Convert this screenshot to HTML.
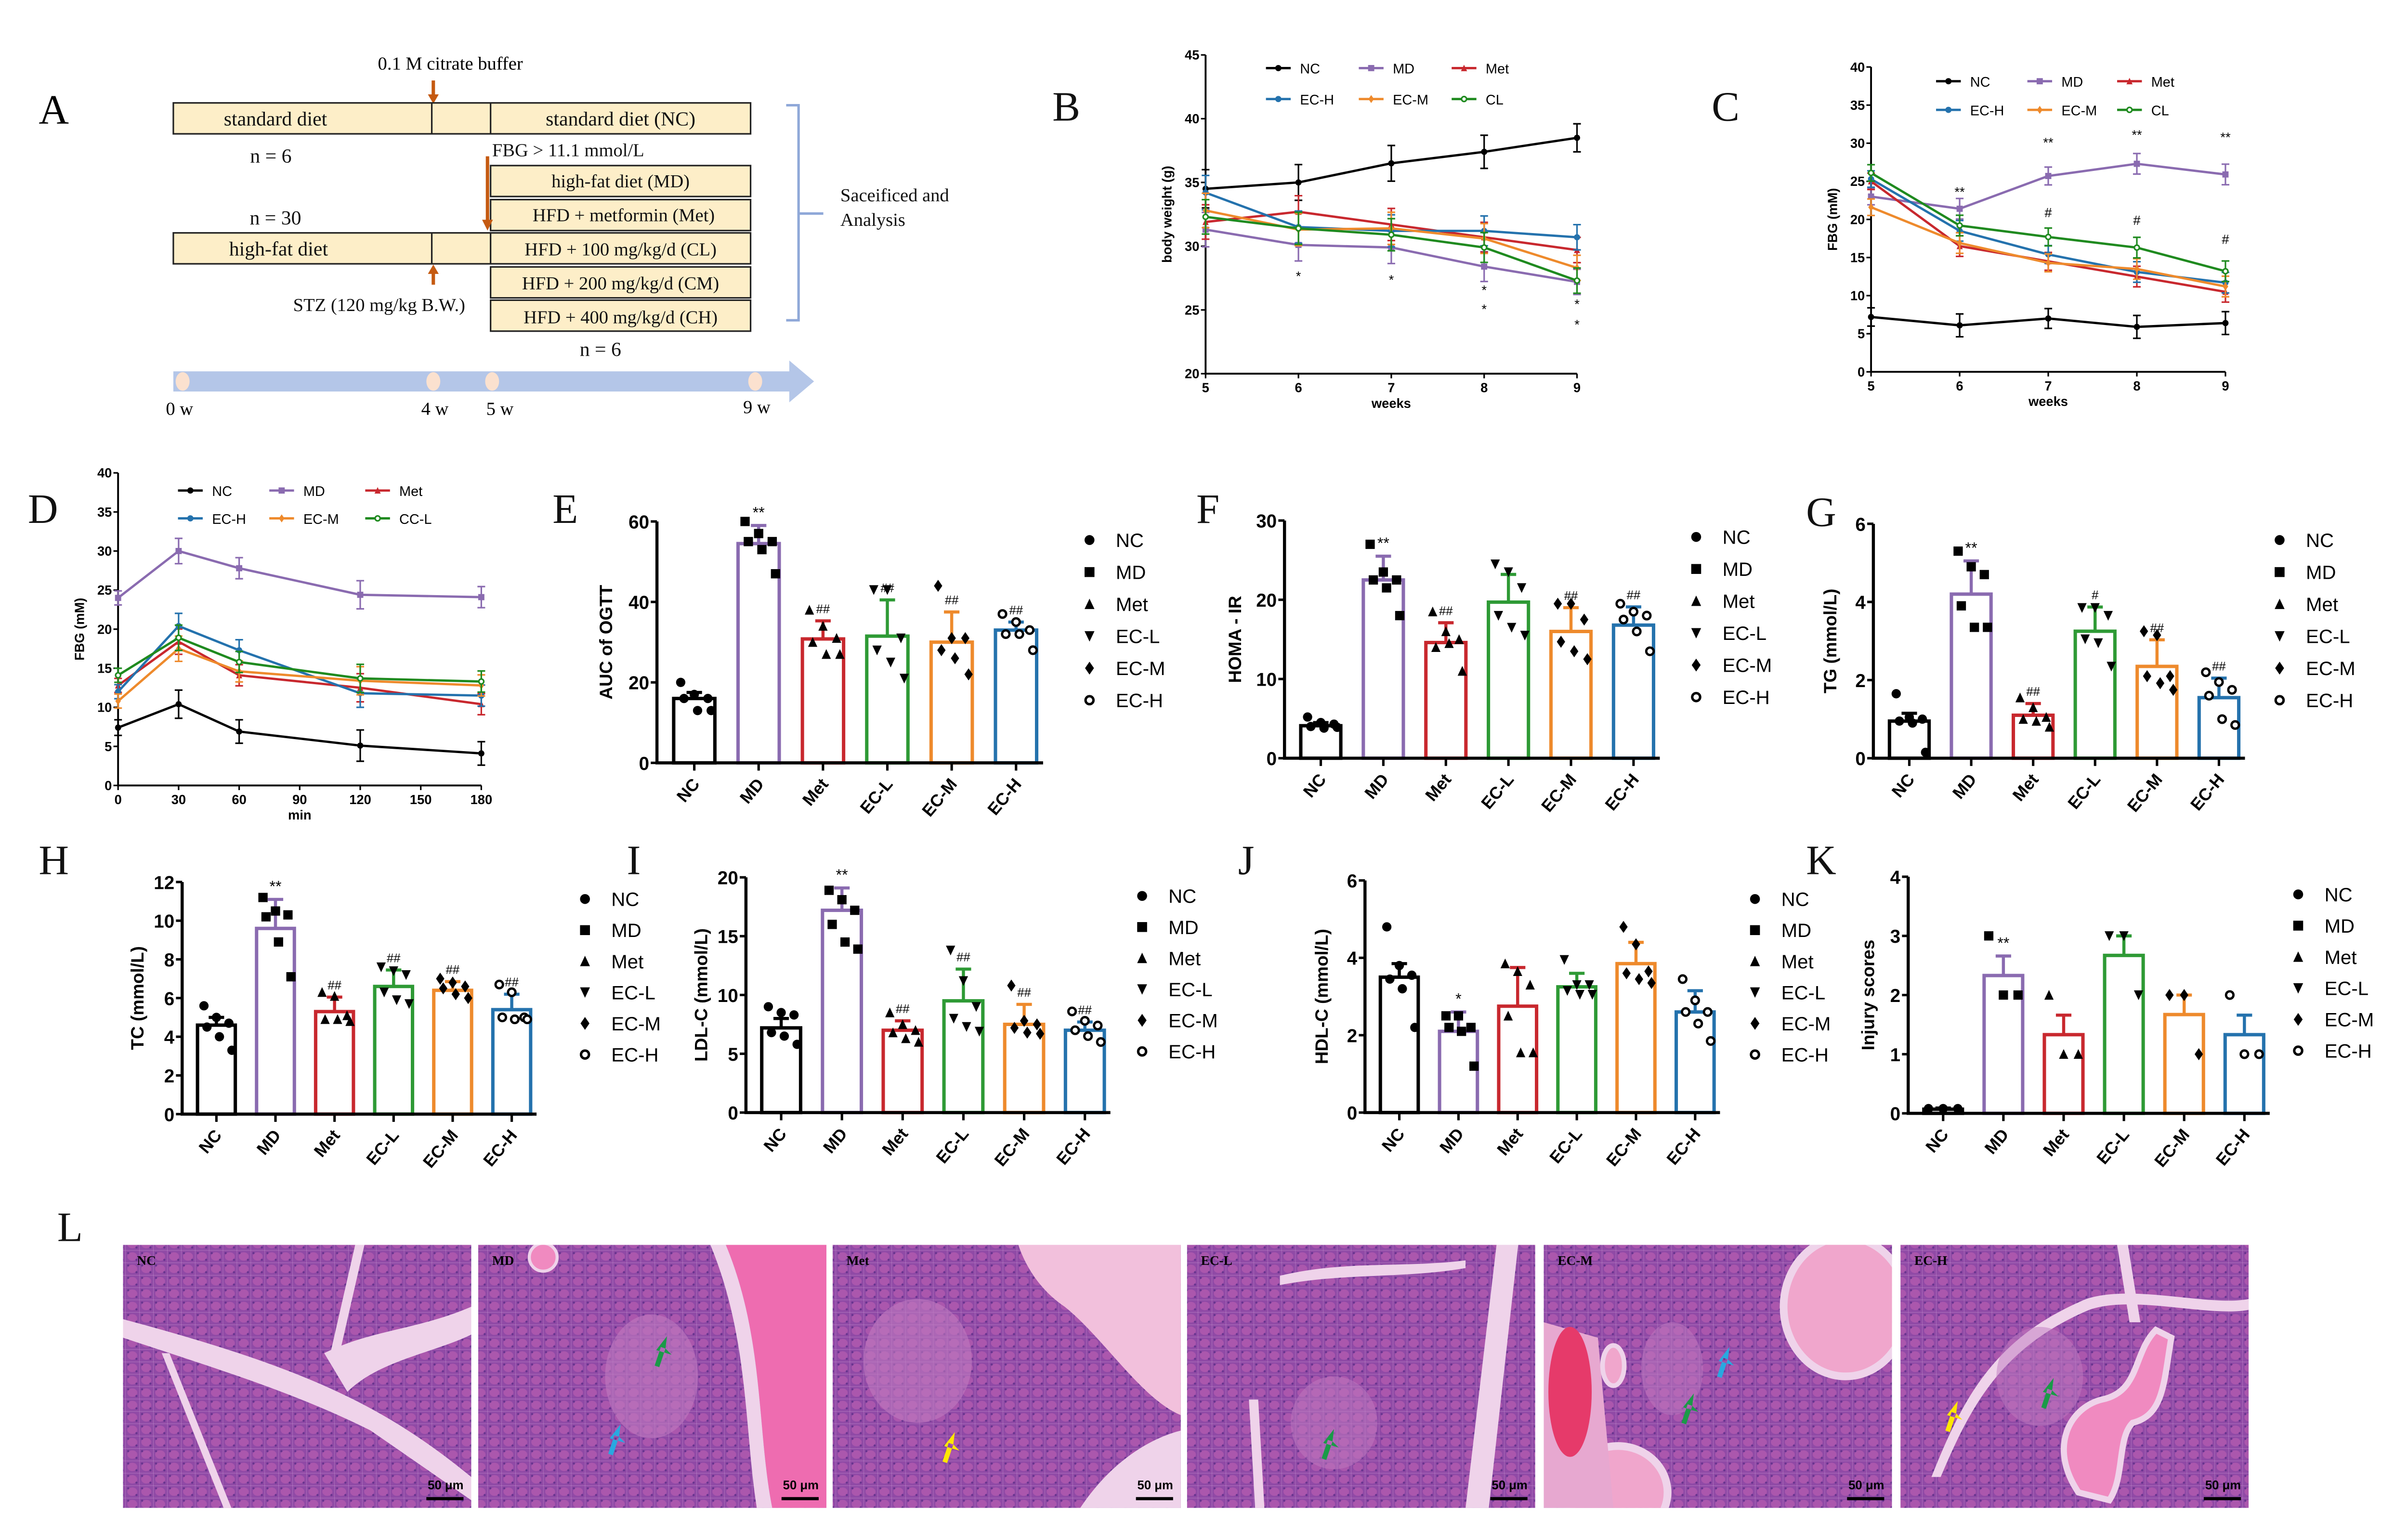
<!DOCTYPE html>
<html>
<head>
<meta charset="utf-8">
<style>
html,body{margin:0;padding:0;background:#fff;}
svg{display:block;}
text{font-family:"Liberation Sans",Arial,sans-serif;}
.serif, .serif text, text.serif{font-family:"Liberation Serif","Times New Roman",serif;}
</style>
</head>
<body>
<svg id="fig" width="5013" height="3188" viewBox="0 0 1560 992" preserveAspectRatio="none" xmlns="http://www.w3.org/2000/svg">
<defs>
<pattern id="acini" width="9" height="8" patternUnits="userSpaceOnUse">
<rect width="9" height="8" fill="#8e4aa6"/>
<ellipse cx="4.5" cy="4" rx="3.2" ry="2.7" fill="#b05aae"/>
<path d="M0 0 L9 0 M0 0 L0 8" stroke="#c99bd0" stroke-width="0.35"/>
<circle cx="1.8" cy="1.8" r="0.7" fill="#5a2f88"/>
<circle cx="7.2" cy="6.2" r="0.7" fill="#5a2f88"/>
</pattern>
</defs>

<!-- Panel A diagram -->
<g>
<text class="serif" x="25" y="80" font-size="27">A</text>
<text class="serif" x="291" y="45" font-size="12" text-anchor="middle">0.1 M citrate buffer</text>
<line x1="280" y1="52" x2="280" y2="63" stroke="#c55a11" stroke-width="2.2"/>
<path d="M276.5 61 L283.5 61 L280 67 Z" fill="#c55a11"/>
<g fill="#fdeec8" stroke="#222" stroke-width="1">
<rect x="112" y="66.5" width="373" height="20"/>
<line x1="279" y1="66.5" x2="279" y2="86.5"/>
<line x1="317" y1="66.5" x2="317" y2="86.5"/>
<rect x="317" y="107" width="168" height="20"/>
<rect x="317" y="129" width="168" height="20"/>
<rect x="112" y="150.5" width="205" height="20"/>
<line x1="279" y1="150.5" x2="279" y2="170.5"/>
<rect x="317" y="150.5" width="168" height="20"/>
<rect x="317" y="172.5" width="168" height="20"/>
<rect x="317" y="194" width="168" height="20"/>
</g>
<g class="serif" font-size="13" fill="#111">
<text x="178" y="81" text-anchor="middle">standard diet</text>
<text x="401" y="81" text-anchor="middle">standard diet (NC)</text>
<text x="175" y="105" text-anchor="middle">n = 6</text>
<text x="318" y="101" font-size="12">FBG &gt; 11.1 mmol/L</text>
<text x="401" y="121" text-anchor="middle" font-size="12">high-fat diet (MD)</text>
<text x="403" y="143" text-anchor="middle" font-size="12">HFD + metformin (Met)</text>
<text x="178" y="145" text-anchor="middle">n = 30</text>
<text x="180" y="165" text-anchor="middle">high-fat diet</text>
<text x="401" y="165" text-anchor="middle" font-size="12">HFD + 100 mg/kg/d  (CL)</text>
<text x="401" y="187" text-anchor="middle" font-size="12">HFD + 200 mg/kg/d (CM)</text>
<text x="401" y="209" text-anchor="middle" font-size="12">HFD + 400 mg/kg/d (CH)</text>
<text x="245" y="201" text-anchor="middle" font-size="12">STZ (120 mg/kg B.W.)</text>
<text x="388" y="230" text-anchor="middle">n = 6</text>
<text x="543" y="130" font-size="12">Saceificed and</text>
<text x="543" y="146" font-size="12">Analysis</text>
</g>
<line x1="315" y1="101" x2="315" y2="144" stroke="#c55a11" stroke-width="2.2"/>
<path d="M311.5 142 L318.5 142 L315 149 Z" fill="#c55a11"/>
<line x1="280" y1="184" x2="280" y2="176" stroke="#c55a11" stroke-width="2.2"/>
<path d="M276.5 177 L283.5 177 L280 171 Z" fill="#c55a11"/>
<path d="M508 68 L516 68 L516 207 L508 207 M516 138 L532 138" fill="none" stroke="#8fa8d8" stroke-width="1.6"/>
<path d="M112 240 L510 240 L510 233 L526 246.5 L510 260 L510 253 L112 253 Z" fill="#b4c6e8"/>
<g fill="#fbe1cf">
<ellipse cx="118" cy="246.5" rx="4.5" ry="6"/>
<ellipse cx="280" cy="246.5" rx="4.5" ry="6"/>
<ellipse cx="318" cy="246.5" rx="4.5" ry="6"/>
<ellipse cx="488" cy="246.5" rx="4.5" ry="6"/>
</g>
<g class="serif" font-size="12" text-anchor="middle">
<text x="116" y="268">0 w</text>
<text x="281" y="268">4 w</text>
<text x="323" y="268">5 w</text>
<text x="489" y="267">9 w</text>
</g>
</g>

<g class="serif" font-size="27" fill="#111">
<text x="680" y="78">B</text>
<text x="1106" y="78">C</text>
<text x="18" y="338">D</text>
<text x="357" y="338">E</text>
<text x="773" y="338">F</text>
<text x="1167" y="340">G</text>
<text x="25" y="565">H</text>
<text x="405" y="565">I</text>
<text x="800" y="565">J</text>
<text x="1167" y="565">K</text>
<text x="37" y="802">L</text>
</g>

<g id="charts"></g>
<g id="histo"></g>
</svg>

<script>
// ===== Data =====
const groups = ["NC","MD","Met","EC-L","EC-M","EC-H"];
const groupColors = ["#000000","#8a6bb0","#c8282e","#2e9a35","#ee8a2c","#2472ad"];
const lineColors = ["#000000","#8a6bb0","#c8282e","#2472ad","#ee8a2c","#1f8a1f"];
const markers = ["circle","square","triUp","triDown","diamond","ring"];

// Panel B: body weight
const weeks = [5,6,7,8,9];
const bwNames = ["NC","MD","Met","EC-H","EC-M","CL"];
const bwNC = [34.5,35.0,36.5,37.4,38.5];
const bwMD = [31.3,30.1,29.9,28.4,27.2];
const bwMet = [31.9,32.7,31.7,30.7,29.7];
const bwECH = [34.2,31.5,31.2,31.2,30.7];
const bwECM = [32.8,31.3,31.4,30.6,28.3];
const bwCL = [32.3,31.4,30.9,29.9,27.3];
const bwErr = [1.5,1.4,1.4,1.3,1.1];
const bwYTicks = [20,25,30,35,40,45];

// Panel C: FBG weeks
const fbgNames = ["NC","MD","Met","EC-H","EC-M","CL"];
const fbgNC = [7.2,6.1,7.0,5.9,6.4];
const fbgMD = [23.0,21.4,25.7,27.3,25.9];
const fbgMet = [25.0,16.5,14.5,12.5,10.5];
const fbgECH = [25.3,18.5,15.4,13.1,11.7];
const fbgECM = [21.6,16.9,14.3,13.5,11.2];
const fbgCL = [26.1,19.2,17.7,16.3,13.2];
const fbgErr = [1.2,1.5,1.3,1.5,1.5];
const fbgYTicks = [0,5,10,15,20,25,30,35,40];

// Panel D: OGTT
const ogttTimes = [0,30,60,120,180];
const ogttXTicks = [0,30,60,90,120,150,180];
const ogttNames = ["NC","MD","Met","EC-H","EC-M","CC-L"];
const ogttNC = [7.4,10.4,6.9,5.1,4.1];
const ogttMD = [24.0,30.0,27.8,24.4,24.1];
const ogttMet = [12.8,18.4,14.1,12.5,10.4];
const ogttECH = [12.0,20.4,17.3,11.8,11.5];
const ogttECM = [10.8,17.5,14.6,13.4,12.8];
const ogttCCL = [14.1,18.9,15.8,13.7,13.3];
const ogttErr = [1.0,1.8,1.5,2.0,1.5];
const ogttYTicks = [0,5,10,15,20,25,30,35,40];

// Bar charts
const aucMeans = [16,54.5,30.8,31.5,30,33];
const aucErrs = [1.5,4.5,4.5,9,7.5,2];
const aucPts = [[20,17,16,16,13,13],[60,57,55,55,53,47],[38,34,31,30,27,27],[43,43,31,28,25,21],[44,31,31,28,26,22],[37,35,33,32,32,28]];
const aucSig = ["","**","##","##","##","##"];
const aucTicks = [0,20,40,60];

const homaMeans = [4.1,22.5,14.6,19.7,16,16.8];
const homaErrs = [0.4,3,2.5,3.5,3,2.3];
const homaPts = [[5.2,4.5,4.3,4.0,3.8,3.9],[27,23.5,22.5,22.5,21.5,18],[18.5,16,15,14,14.5,11],[24.5,23.5,21.5,18,16.5,15.5],[19.5,19.5,17.5,14.7,13.5,12.5],[19.5,18.5,18,17.5,16,13.5]];
const homaSig = ["","**","##","","##","##"];
const homaTicks = [0,10,20,30];

const tgMeans = [0.95,4.2,1.1,3.25,2.35,1.55];
const tgErrs = [0.2,0.85,0.3,0.62,0.68,0.5];
const tgPts = [[1.65,1.05,1.0,0.95,0.9,0.15],[5.3,4.9,4.7,3.9,3.35,3.35],[1.55,1.3,1.05,1.0,0.95,0.8],[3.85,3.85,3.65,3.05,2.95,2.35],[3.25,3.15,2.1,2.1,1.92,1.75],[2.2,1.95,1.75,1.6,1.0,0.85]];
const tgSig = ["","**","##","#","##","##"];
const tgTicks = [0,2,4,6];

const tcMeans = [4.6,9.6,5.3,6.6,6.4,5.4];
const tcErrs = [0.4,1.5,0.75,0.85,0.45,0.8];
const tcPts = [[5.6,5.0,4.7,4.5,4.0,3.3],[11.2,10.5,10.3,10.2,8.9,7.1],[6.3,6.1,5.1,4.9,4.9,4.8],[7.6,7.4,7.2,6.3,5.9,5.7],[7.0,6.8,6.6,6.5,6.2,6.0],[6.7,6.3,5.0,5.0,4.9,4.9]];
const tcSig = ["","**","##","##","##","##"];
const tcTicks = [0,2,4,6,8,10,12];

const ldlMeans = [7.2,17.2,7.0,9.5,7.5,7.0];
const ldlErrs = [0.8,1.9,0.8,2.7,1.7,0.7];
const ldlPts = [[9.0,8.5,8.3,6.8,6.5,5.8],[18.9,18.1,17.2,16.0,14.5,13.9],[8.5,7.5,7.0,6.8,6.3,6.0],[13.8,11.2,9.0,8.0,7.3,6.9],[10.8,7.8,7.5,7.2,6.8,6.7],[8.6,7.8,7.4,7.0,6.5,6.0]];
const ldlSig = ["","**","##","##","##","##"];
const ldlTicks = [0,5,10,15,20];

const hdlMeans = [3.5,2.1,2.75,3.25,3.85,2.6];
const hdlErrs = [0.35,0.5,1.0,0.35,0.55,0.55];
const hdlPts = [[4.8,3.8,3.55,3.45,3.2,2.2],[2.5,2.5,2.2,2.2,2.1,1.2],[3.85,3.65,3.3,2.5,1.55,1.55],[3.95,3.3,3.3,3.15,3.05,3.05],[4.8,4.35,3.65,3.6,3.45,3.35],[3.45,2.9,2.6,2.6,2.3,1.85]];
const hdlSig = ["","*","","","",""];
const hdlTicks = [0,2,4,6];

const injMeans = [0.07,2.33,1.33,2.67,1.67,1.33];
const injErrs = [0.02,0.33,0.33,0.33,0.33,0.33];
const injPts = [[0.08,0.08,0.08],[3,2,2],[2,1,1],[3,3,2],[2,2,1],[2,1,1]];
const injSig = ["","**","","","",""];
const injTicks = [0,1,2,3,4];

// ===== Helpers =====
const NS = "http://www.w3.org/2000/svg";
const root = document.getElementById("charts");
function mk(tag, attrs, parent){
  const el = document.createElementNS(NS, tag);
  for (const k in attrs) el.setAttribute(k, attrs[k]);
  (parent || root).appendChild(el);
  return el;
}
function txt(x,y,s,size,parent,extra){
  const a = Object.assign({x:x,y:y,"font-size":size},extra||{});
  const t = mk("text", a, parent);
  t.textContent = s;
  return t;
}
function marker(type, x, y, r, color, parent){
  let el;
  if (type==="circle") el = mk("circle",{cx:x,cy:y,r:r,fill:color},parent);
  else if (type==="ring") el = mk("circle",{cx:x,cy:y,r:r*0.8,fill:"#fff",stroke:color,"stroke-width":r*0.5},parent);
  else if (type==="square") el = mk("rect",{x:x-r,y:y-r,width:2*r,height:2*r,fill:color},parent);
  else if (type==="triUp") el = mk("path",{d:`M${x-r} ${y+r} L${x+r} ${y+r} L${x} ${y-r*1.1} Z`,fill:color},parent);
  else if (type==="triDown") el = mk("path",{d:`M${x-r} ${y-r} L${x+r} ${y-r} L${x} ${y+r*1.1} Z`,fill:color},parent);
  else el = mk("path",{d:`M${x} ${y-r*1.3} L${x+r*0.9} ${y} L${x} ${y+r*1.3} L${x-r*0.9} ${y} Z`,fill:color},parent);
  return el;
}

// ===== Line chart =====
function lineChart(cfg){
  const g = mk("g",{});
  
  
  const sx = v => cfg.x0 + (v - cfg.xmin)/(cfg.xmax - cfg.xmin)*(cfg.x1 - cfg.x0);
  const sy = v => cfg.y1 - (v - cfg.ymin)/(cfg.ymax - cfg.ymin)*(cfg.y1 - cfg.y0);
  const ax = mk("path",{d:`M${cfg.x0} ${cfg.y0} L${cfg.x0} ${cfg.y1} L${cfg.x1} ${cfg.y1}`,fill:"none",stroke:"#000","stroke-width":1.2},g);
  
  
  cfg.yticks.forEach(v=>{
    mk("line",{x1:cfg.x0-3,y1:sy(v),x2:cfg.x0,y2:sy(v),stroke:"#000","stroke-width":1},g);
    const t = txt(cfg.x0-4, sy(v)+3, String(v), 8.5, g, {"text-anchor":"end","font-weight":"bold"});
    
    
  });
  cfg.xticks.forEach(v=>{
    mk("line",{x1:sx(v),y1:cfg.y1,x2:sx(v),y2:cfg.y1+3,stroke:"#000","stroke-width":1},g);
    const t = txt(sx(v), cfg.y1+12, String(v), 8.5, g, {"text-anchor":"middle","font-weight":"bold"});
    
    
  });
  const xt = txt((cfg.x0+cfg.x1)/2, cfg.y1+22, cfg.xlabel, 8.5, g, {"text-anchor":"middle","font-weight":"bold"});
  
  
  const yt = txt(0,0,cfg.ylabel, 8.5, g, {"text-anchor":"middle","font-weight":"bold",transform:`translate(${cfg.x0-22},${(cfg.y0+cfg.y1)/2}) rotate(-90)`});
  
  
  const lmk = ["circle","square","triUp","circle","diamond","ring"];
  cfg.series.forEach((s,i)=>{
    const col = lineColors[i];
    const sg = mk("g",{},g);
    
    
    s.forEach((v,j)=>{
      const e = cfg.err[j]*(i===0?1:0.9);
      mk("path",{d:`M${sx(cfg.xs[j])} ${sy(v-e)} L${sx(cfg.xs[j])} ${sy(v+e)} M${sx(cfg.xs[j])-2.5} ${sy(v-e)} L${sx(cfg.xs[j])+2.5} ${sy(v-e)} M${sx(cfg.xs[j])-2.5} ${sy(v+e)} L${sx(cfg.xs[j])+2.5} ${sy(v+e)}`,stroke:col,"stroke-width":1,fill:"none"},sg);
    });
    const pl = mk("polyline",{points:s.map((v,j)=>sx(cfg.xs[j])+","+sy(v)).join(" "),fill:"none",stroke:col,"stroke-width":1.5},sg);
    
    
    s.forEach((v,j)=>{
      const m = marker(lmk[i], sx(cfg.xs[j]), sy(v), 2, col, sg);
      
      
    });
    const lx = cfg.legX[i%3], ly = cfg.legY[Math.floor(i/3)];
    const lg = mk("g",{},g);
    
    
    mk("line",{x1:lx-10,y1:ly,x2:lx+6,y2:ly,stroke:col,"stroke-width":1.5},lg);
    marker(lmk[i], lx-2, ly, 2, col, lg);
    txt(lx+12, ly+3.5, cfg.names[i], 9, lg);
  });
  (cfg.annot||[]).forEach(a=>{
    const t = txt(sx(a[0]), sy(a[1]), a[2], 8.5, g, {"text-anchor":"middle"});
    
    
  });
}

lineChart({name:"chart-b-body-weight",x0:779,x1:1019,y0:35.5,y1:241.5,xmin:5,xmax:9,ymin:20,ymax:45,
  xs:weeks,xticks:weeks,yticks:bwYTicks,xlabel:"weeks",ylabel:"body weight (g)",
  series:[bwNC,bwMD,bwMet,bwECH,bwECM,bwCL],names:bwNames,err:bwErr,
  legX:[828,888,948],legY:[44,64],
  annot:[[6,27.3,"*"],[7,27.0,"*"],[8,26.2,"*"],[8,24.7,"*"],[9,25.1,"*"],[9,23.5,"*"]]});

lineChart({name:"chart-c-fbg",x0:1209,x1:1438,y0:43.3,y1:240.3,xmin:5,xmax:9,ymin:0,ymax:40,
  xs:weeks,xticks:weeks,yticks:fbgYTicks,xlabel:"weeks",ylabel:"FBG (mM)",
  series:[fbgNC,fbgMD,fbgMet,fbgECH,fbgECM,fbgCL],names:fbgNames,err:fbgErr,
  legX:[1261,1320,1378],legY:[52.5,71],
  annot:[[6,23,"**"],[7,29.5,"**"],[8,30.5,"**"],[9,30.2,"**"],[7,20.3,"#"],[8,19.3,"#"],[9,16.8,"#"]]});

lineChart({name:"chart-d-ogtt",x0:76.3,x1:311,y0:305.6,y1:507.6,xmin:0,xmax:180,ymin:0,ymax:40,
  xs:ogttTimes,xticks:ogttXTicks,yticks:ogttYTicks,xlabel:"min",ylabel:"FBG (mM)",
  series:[ogttNC,ogttMD,ogttMet,ogttECH,ogttECM,ogttCCL],names:ogttNames,err:ogttErr,
  legX:[125,184,246],legY:[317,335]});

// ===== Bar chart =====
function barChart(cfg){
  const g = mk("g",{});
  
  
  const slot = (cfg.x1 - cfg.x0)/6;
  const cx = i => cfg.x0 + slot*(i+0.58);
  const bw = slot*0.64;
  const ymax = cfg.ticks[cfg.ticks.length-1];
  const sy = v => cfg.y1 - v/ymax*(cfg.y1-cfg.y0);
  cfg.means.forEach((m,i)=>{
    const col = groupColors[i];
    const e = cfg.errs[i];
    const eg = mk("path",{d:`M${cx(i)} ${sy(m)} L${cx(i)} ${sy(m+e)} M${cx(i)-5} ${sy(m+e)} L${cx(i)+5} ${sy(m+e)}`,stroke:col,"stroke-width":2,fill:"none"},g);
    
    
    const r = mk("rect",{x:cx(i)-bw/2,y:sy(m),width:bw,height:Math.max(0.1,sy(0)-sy(m)),fill:"none",stroke:col,"stroke-width":2.2},g);
    
    
    const pts = cfg.pts[i];
    const n = pts.length;
    pts.forEach((v,k)=>{
      const off = n===3 ? (k-1)*bw*0.38 : ((k%3)-1)*bw*0.33 + (k<3?0:bw*0.08);
      const p = marker(markers[i], cx(i)+off, sy(v), 3, "#000", g);
      
      
    });
    if (cfg.sig[i]) {
      const t = txt(cx(i), sy(m+e)-5, cfg.sig[i], cfg.sig[i].indexOf("*")>=0?10:8, g, {"text-anchor":"middle"});
      
      
    }
    mk("line",{x1:cx(i),y1:cfg.y1,x2:cx(i),y2:cfg.y1+5,stroke:"#000","stroke-width":1.6},g);
    const lt = txt(0,0,groups[i],11,g,{"text-anchor":"end","font-weight":"bold",transform:`translate(${cx(i)+4},${cfg.y1+14}) rotate(-50)`});
    
    
  });
  const ax = mk("path",{d:`M${cfg.x0} ${cfg.y0} L${cfg.x0} ${cfg.y1} L${cfg.x1} ${cfg.y1}`,fill:"none",stroke:"#000","stroke-width":2},g);
  
  
  cfg.ticks.forEach(v=>{
    mk("line",{x1:cfg.x0-4,y1:sy(v),x2:cfg.x0,y2:sy(v),stroke:"#000","stroke-width":1.6},g);
    const t = txt(cfg.x0-5, sy(v)+4.5, String(v), 12, g, {"text-anchor":"end","font-weight":"bold"});
    
    
  });
  const yt = txt(0,0,cfg.ylabel,11.5,g,{"text-anchor":"middle","font-weight":"bold",transform:`translate(${cfg.x0-cfg.ylOff},${(cfg.y0+cfg.y1)/2}) rotate(-90)`});
  
  
  groups.forEach((gname,i)=>{
    const lg = mk("g",{},g);
    
    
    marker(markers[i], cfg.legX, cfg.legY + i*cfg.legStep, 3.2, "#000", lg);
    txt(cfg.legX+17, cfg.legY + i*cfg.legStep + 4.5, gname, 12.5, lg);
  });
}

barChart({name:"chart-e-auc-ogtt",x0:424.5,x1:674,y0:337,y1:493,ticks:aucTicks,means:aucMeans,errs:aucErrs,pts:aucPts,sig:aucSig,ylabel:"AUC of OGTT",ylOff:29,legX:704,legY:349,legStep:20.7});
barChart({name:"chart-f-homa-ir",x0:830,x1:1072.5,y0:336.4,y1:490,ticks:homaTicks,means:homaMeans,errs:homaErrs,pts:homaPts,sig:homaSig,ylabel:"HOMA - IR",ylOff:28,legX:1096,legY:347,legStep:20.7});
barChart({name:"chart-g-tg",x0:1210.5,x1:1450.6,y0:338.5,y1:490,ticks:tgTicks,means:tgMeans,errs:tgErrs,pts:tgPts,sig:tgSig,ylabel:"TG  (mmol/L)",ylOff:24,legX:1473,legY:349,legStep:20.7});
barChart({name:"chart-h-tc",x0:117.7,x1:346.7,y0:570,y1:720,ticks:tcTicks,means:tcMeans,errs:tcErrs,pts:tcPts,sig:tcSig,ylabel:"TC  (mmol/L)",ylOff:25,legX:378,legY:581,legStep:20.1});
barChart({name:"chart-i-ldl-c",x0:482,x1:717.5,y0:567,y1:719,ticks:ldlTicks,means:ldlMeans,errs:ldlErrs,pts:ldlPts,sig:ldlSig,ylabel:"LDL-C  (mmol/L)",ylOff:25,legX:738,legY:579,legStep:20.1});
barChart({name:"chart-j-hdl-c",x0:882,x1:1111.4,y0:569,y1:719,ticks:hdlTicks,means:hdlMeans,errs:hdlErrs,pts:hdlPts,sig:hdlSig,ylabel:"HDL-C  (mmol/L)",ylOff:24,legX:1134,legY:581,legStep:20.1});
barChart({name:"chart-k-injury-scores",x0:1233,x1:1466.6,y0:566.6,y1:719.5,ticks:injTicks,means:injMeans,errs:injErrs,pts:injPts,sig:injSig,ylabel:"Injury scores",ylOff:22,legX:1485,legY:578,legStep:20.2});

// ===== Histology panel L =====
const histoLabels = ["NC","MD","Met","EC-L","EC-M","EC-H"];
const histoX = [79.5,309,538,767,997.5,1228];
const hroot = document.getElementById("histo");
histoLabels.forEach((lab,i)=>{
  const x = histoX[i], y = 804.5, w = 225, h = 170;
  const g = document.createElementNS(NS,"g");
  hroot.appendChild(g);
  
  
  const cp = document.createElementNS(NS,"clipPath");
  cp.setAttribute("id","cp"+i);
  const cr = document.createElementNS(NS,"rect");
  cr.setAttribute("x",x); cr.setAttribute("y",y); cr.setAttribute("width",w); cr.setAttribute("height",h);
  cp.appendChild(cr); g.appendChild(cp);
  const inner = document.createElementNS(NS,"g");
  inner.setAttribute("clip-path","url(#cp"+i+")");
  g.appendChild(inner);
  mk("rect",{x:x,y:y,width:w,height:h,fill:"url(#acini)"},inner);
  mk("rect",{x:x,y:y,width:w,height:h,fill:"#9a4aa8",opacity:0.2},inner);
  const duct = "#efd3ea";
  if (i===0){
    mk("path",{d:`M${x} ${y+60} C${x+60} ${y+80} ${x+110} ${y+95} ${x+160} ${y+120} L${x+225} ${y+165} L${x+225} ${y+150} C${x+170} ${y+105} ${x+120} ${y+80} ${x} ${y+48} Z`,fill:duct},inner);
    mk("path",{d:`M${x+130} ${y+70} C${x+160} ${y+55} ${x+190} ${y+55} ${x+225} ${y+40} L${x+225} ${y+58} C${x+200} ${y+70} ${x+165} ${y+75} ${x+145} ${y+95} Z`,fill:duct},inner);
    mk("path",{d:`M${x+150} ${y} L${x+156} ${y} L${x+140} ${y+70} L${x+134} ${y+70} Z`,fill:duct},inner);
    mk("path",{d:`M${x+25} ${y+70} L${x+30} ${y+70} L${x+70} ${y+170} L${x+65} ${y+170} Z`,fill:duct},inner);
  } else if (i===1){
    mk("path",{d:`M${x+160} ${y} L${x+225} ${y} L${x+225} ${y+170} L${x+190} ${y+170} C${x+180} ${y+120} ${x+185} ${y+60} ${x+160} ${y} Z`,fill:"#ee6cb0"},inner);
    mk("path",{d:`M${x+150} ${y} L${x+160} ${y} C${x+185} ${y+60} ${x+180} ${y+120} ${x+190} ${y+170} L${x+180} ${y+170} C${x+172} ${y+120} ${x+175} ${y+60} ${x+150} ${y} Z`,fill:duct},inner);
    mk("circle",{cx:x+42,cy:y+8,r:9,fill:"#f08ac0",stroke:duct,"stroke-width":2},inner);
    mk("ellipse",{cx:x+112,cy:y+85,rx:30,ry:40,fill:"#c07ac0",opacity:0.6},inner);
  } else if (i===2){
    mk("path",{d:`M${x+120} ${y} L${x+225} ${y} L${x+225} ${y+110} C${x+200} ${y+100} ${x+175} ${y+60} ${x+150} ${y+40} C${x+135} ${y+30} ${x+125} ${y+15} ${x+120} ${y} Z`,fill:"#f2c0dc"},inner);
    mk("path",{d:`M${x+160} ${y+170} C${x+180} ${y+140} ${x+205} ${y+125} ${x+225} ${y+120} L${x+225} ${y+170} Z`,fill:duct},inner);
    mk("ellipse",{cx:x+55,cy:y+75,rx:35,ry:40,fill:"#c07ac0",opacity:0.6},inner);
  } else if (i===3){
    mk("path",{d:`M${x+200} ${y} L${x+214} ${y} L${x+195} ${y+170} L${x+180} ${y+170} Z`,fill:duct},inner);
    mk("path",{d:`M${x+40} ${y+100} L${x+46} ${y+100} L${x+50} ${y+170} L${x+44} ${y+170} Z`,fill:duct},inner);
    mk("path",{d:`M${x+60} ${y+20} C${x+100} ${y+10} ${x+140} ${y+15} ${x+180} ${y+10} L${x+180} ${y+15} C${x+140} ${y+22} ${x+100} ${y+18} ${x+60} ${y+26} Z`,fill:duct},inner);
    mk("ellipse",{cx:x+95,cy:y+115,rx:28,ry:30,fill:"#c07ac0",opacity:0.5},inner);
  } else if (i===4){
    mk("ellipse",{cx:x+195,cy:y+40,rx:40,ry:45,fill:"#f0a6cc",stroke:duct,"stroke-width":5},inner);
    mk("ellipse",{cx:x+48,cy:y+160,rx:32,ry:30,fill:"#f0a6cc",stroke:duct,"stroke-width":5},inner);
    mk("path",{d:`M${x} ${y+50} L${x+35} ${y+60} L${x+45} ${y+170} L${x} ${y+170} Z`,fill:"#e7a8d0"},inner);
    mk("ellipse",{cx:x+17,cy:y+95,rx:14,ry:42,fill:"#e63a6a"},inner);
    mk("ellipse",{cx:x+45,cy:y+78,rx:7,ry:13,fill:"#f0a6cc",stroke:duct,"stroke-width":3},inner);
    mk("ellipse",{cx:x+83,cy:y+80,rx:20,ry:30,fill:"#c07ac0",opacity:0.5},inner);
  } else {
    mk("path",{d:`M${x+115} ${y+160} C${x+95} ${y+130} ${x+110} ${y+105} ${x+130} ${y+100} C${x+155} ${y+95} ${x+150} ${y+70} ${x+165} ${y+55} L${x+175} ${y+60} C${x+170} ${y+90} ${x+170} ${y+110} ${x+150} ${y+115} C${x+140} ${y+125} ${x+145} ${y+150} ${x+135} ${y+165} Z`,fill:"#f08ac0",stroke:duct,"stroke-width":4},inner);
    mk("path",{d:`M${x+20} ${y+150} C${x+40} ${y+100} ${x+60} ${y+60} ${x+120} ${y+35} C${x+150} ${y+25} ${x+200} ${y+40} ${x+225} ${y+35} L${x+225} ${y+42} C${x+200} ${y+47} ${x+150} ${y+32} ${x+122} ${y+42} C${x+65} ${y+66} ${x+45} ${y+105} ${x+26} ${y+150} Z`,fill:duct},inner);
    mk("path",{d:`M${x+140} ${y} L${x+147} ${y} L${x+155} ${y+50} L${x+148} ${y+50} Z`,fill:duct},inner);
    mk("ellipse",{cx:x+90,cy:y+85,rx:28,ry:32,fill:"#c07ac0",opacity:0.5},inner);
  }
  const arrows = [[],[[x+115,y+68,"#1a9a48"],[x+85,y+125,"#29a8e0"]],[[x+72,y+130,"#ffe600"]],[[x+88,y+128,"#1a9a48"]],[[x+90,y+105,"#1a9a48"],[x+113,y+75,"#29a8e0"]],[[x+92,y+95,"#1a9a48"],[x+30,y+110,"#ffe600"]]];
  arrows[i].forEach(a=>{
    const ar = mk("path",{d:`M${a[0]} ${a[1]} l7 -9 l-1 8 l4 4 l-10 -3 z M${a[0]+3} ${a[1]-2} l-4 12 l3 1 l4 -12 z`,fill:a[2]},inner);
    
    
  });
  const lt = txt(x+9, y+13, lab, 8.5, inner, {"class":"serif","font-weight":"bold"});
  
  
  const sb = txt(x+w-5, y+h-12, "50 μm", 8, inner, {"text-anchor":"end","font-weight":"bold"});
  
  
  const sl = mk("line",{x1:x+w-29,y1:y+h-6,x2:x+w-5,y2:y+h-6,stroke:"#000","stroke-width":2},inner);
  
  
});
</script>
</body>
</html>
